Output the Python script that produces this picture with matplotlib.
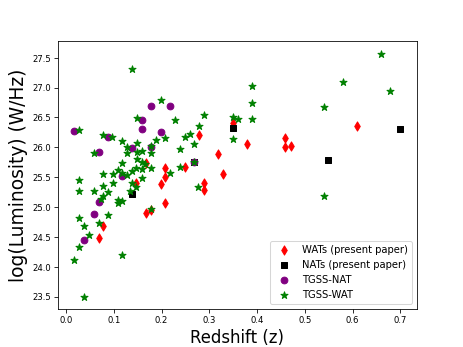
import numpy as np
import matplotlib
matplotlib.use('Agg')
import matplotlib.pyplot as plt

# WATs (present paper)
wat_z = [0.279, 0.349, 0.379, 0.319, 0.328, 0.288, 0.288, 0.459, 0.459, 0.470,
         0.610, 0.248, 0.208, 0.208, 0.168, 0.147, 0.198, 0.208, 0.168, 0.178,
         0.078, 0.068]
wat_L = [26.21, 26.40, 26.05, 25.88, 25.55, 25.40, 25.28, 26.16, 26.01, 26.03,
         26.35, 25.67, 25.65, 25.51, 25.73, 25.40, 25.39, 25.07, 24.90, 24.95,
         24.68, 24.48]

# NATs (present paper)
nat_z = [0.349, 0.549, 0.700, 0.268, 0.138]
nat_L = [26.32, 25.79, 26.31, 25.75, 25.22]

# TGSS-NAT
tnat_z = [0.017, 0.087, 0.068, 0.138, 0.178, 0.158, 0.158, 0.178, 0.218, 0.198,
          0.069, 0.058, 0.038, 0.268, 0.118]
tnat_L = [26.27, 26.18, 25.92, 25.99, 26.01, 26.46, 26.30, 26.69, 26.70, 26.26,
          25.08, 24.89, 24.45, 25.75, 25.52]

# TGSS-WAT
twat_z = [0.138, 0.198, 0.148, 0.228, 0.027, 0.078, 0.097, 0.208, 0.248, 0.259,
          0.118, 0.148, 0.188, 0.127, 0.128, 0.178, 0.148, 0.158, 0.178, 0.239,
          0.058, 0.268, 0.118, 0.078, 0.099, 0.109, 0.118, 0.128, 0.138, 0.147,
          0.027, 0.289, 0.279, 0.148, 0.159, 0.166, 0.159, 0.178, 0.239, 0.268,
          0.218, 0.159, 0.027, 0.058, 0.078, 0.099, 0.088, 0.078, 0.074, 0.109,
          0.118, 0.108, 0.138, 0.147, 0.134, 0.088, 0.027, 0.038, 0.069, 0.048,
          0.027, 0.017, 0.038, 0.118, 0.178, 0.277, 0.389, 0.389, 0.389, 0.349,
          0.359, 0.349, 0.660, 0.579, 0.679, 0.539, 0.539]
twat_L = [27.31, 26.79, 26.49, 26.46, 26.29, 26.20, 26.18, 26.16, 26.18, 26.22,
          26.10, 26.08, 26.12, 26.01, 25.91, 26.03, 25.93, 25.94, 25.91, 25.97,
          25.91, 26.05, 25.74, 25.56, 25.55, 25.62, 25.57, 25.53, 25.61, 25.65,
          25.45, 26.54, 26.36, 25.80, 25.76, 25.72, 25.63, 25.65, 25.67, 25.75,
          25.57, 25.49, 25.27, 25.27, 25.35, 25.41, 25.25, 25.18, 25.13, 25.11,
          25.10, 25.06, 25.40, 25.33, 25.27, 24.87, 24.82, 24.69, 24.74, 24.54,
          24.33, 24.11, 23.50, 24.19, 24.96, 25.33, 27.03, 26.75, 26.47, 26.50,
          26.47, 26.14, 27.57, 27.10, 26.95, 26.68, 25.18]

fig = plt.figure(figsize=(6.4, 4.8), dpi=72.35)
plt.scatter(wat_z, wat_L, marker='d', color='red', s=42, label='WATs (present paper)')
plt.scatter(nat_z, nat_L, marker='s', color='black', s=40, label='NATs (present paper)')
plt.scatter(tnat_z, tnat_L, marker='o', color='purple', s=45, label='TGSS-NAT')
plt.scatter(twat_z, twat_L, marker='*', color='green', s=55, label='TGSS-WAT')
plt.xlabel('Redshift (z)', fontsize=16.5)
plt.ylabel('log(Luminosity) (W/Hz)', fontsize=18.5)
plt.xticks(fontsize=8.5)
plt.yticks(fontsize=8.5)
plt.legend(loc='lower right', fontsize=10)
plt.savefig('out.png', dpi=72.35)
